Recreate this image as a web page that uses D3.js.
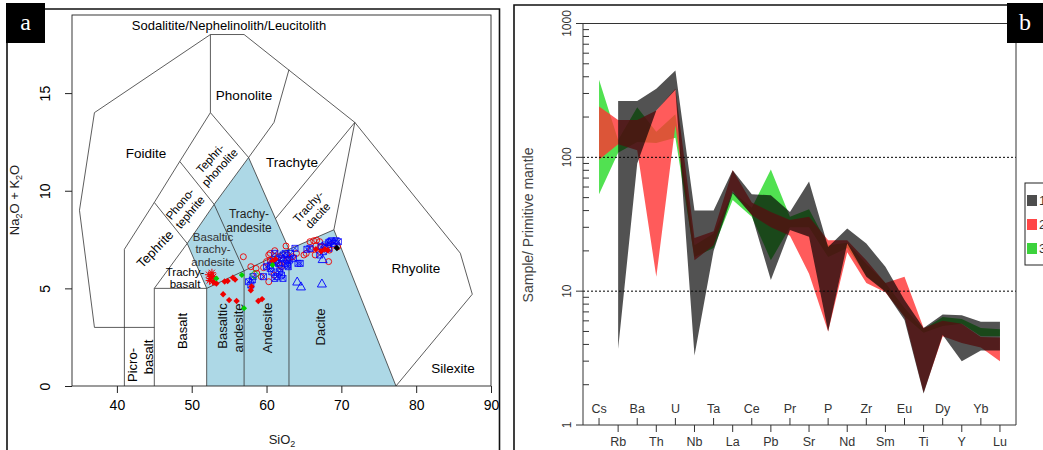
<!DOCTYPE html>
<html><head><meta charset="utf-8">
<script src="https://cdn.jsdelivr.net/npm/d3@7"></script>
<style>
html,body{margin:0;padding:0;background:#fff;}
svg{display:block;font-family:"Liberation Sans",Arial,sans-serif;}
</style></head><body>
<svg id="c" width="1043" height="450"></svg>
<script>
// ---------- Panel a: TAS data ----------
const tasXTicks = [40,50,60,70,80,90];
const tasYTicks = [0,5,10,15];
const tasShaded = [[52,0],[52,5],[49.4,7.3],[53,9.3],[57.6,11.7],[63,7],[69,8],[77.3,0]];
const tasLines = [
  [[45,3],[37,3],[35,9],[37,14],[52.5,18],[57,18],[71.8,13.5],[85.9,6.8],[87.5,4.7],[77.3,0]],
  [[41,0],[41,7],[45,9.4],[48.4,11.5],[52.5,14],[52.5,18]],
  [[45,0],[45,5],[52,5],[52,0]],
  [[45,5],[49.4,7.3],[52,5]],
  [[45,9.4],[49.4,7.3]],
  [[48.4,11.5],[53,9.3]],
  [[52.5,14],[57.6,11.7]],
  [[49.4,7.3],[53,9.3],[57.6,11.7],[61,13.5],[63,16.2]],
  [[53,9.3],[57,5.9]],
  [[52,5],[57,5.9],[63,7],[69,8]],
  [[57,0],[57,5.9]],
  [[63,0],[63,7]],
  [[57.6,11.7],[63,7]],
  [[69,8],[77.3,0]],
  [[69,8],[71.8,13.5]],
  [[61.2,8.57],[71.8,13.5]]
];
const tasRedCross = [[52.3,5.7],[52.5,5.5],[52.7,5.8],[52.9,5.6],[52.4,5.4],[52.8,5.35],[52.6,5.62]];
const tasRedFilled = [[53.0,5.3],[53.3,5.25],[54.4,5.35],[54.8,5.38],[55.5,5.55],[55.8,5.45],[54.2,4.7],[55.0,4.4],[56.0,4.35],[57.9,4.9],[58.0,5.1],[58.9,4.35],[59.4,4.45],[60.8,6.4],[61.2,6.5],[66.6,7.0],[67.3,6.9],[67.8,7.0],[68.2,6.95]];
const tasGreenFilled = [[53.3,5.5],[56.7,5.68],[57.0,3.98],[60.8,6.2]];
const tasGreenOpen = [[58.4,5.7]];
const tasRedCircle = [[56.9,6.62],[57.9,6.11],[58.6,6.02],[59.6,6.06],[60.0,6.37],[60.3,6.71],[60.5,6.79],[61.1,6.93],[61.6,6.62],[60.3,5.34],[61.0,5.68],[62.0,6.11],[62.6,7.17],[63.5,6.62],[64.0,6.79],[65.0,6.71],[65.3,6.79],[65.8,7.39],[66.3,7.44],[66.7,7.47],[67.1,7.39],[67.2,7.13],[66.5,6.71],[67.8,7.13],[68.3,6.37],[68.4,6.96],[68.9,7.22],[59.3,5.6],[58.7,5.77],[60.5,6.45],[61.3,6.37],[61.8,6.19],[62.2,6.45],[62.7,6.71],[63.0,6.54],[66.6,7.17],[66.0,7.0],[69.5,7.13]];
const tasBlueSquare = [[57.6,5.34],[57.9,5.17],[58.1,5.43],[58.2,5.6],[59.6,5.6],[60.0,6.11],[60.5,6.19],[60.9,6.37],[61.4,6.45],[61.6,6.28],[62.0,6.54],[62.2,6.71],[62.5,6.79],[62.7,6.45],[62.8,6.19],[63.1,6.45],[63.6,6.54],[63.8,7.05],[64.2,6.28],[64.5,6.28],[61.7,5.85],[62.0,5.68],[61.4,5.6],[62.2,5.51],[61.1,5.51],[65.4,7.0],[65.8,7.05],[67.3,7.13],[67.8,7.22],[68.3,7.34],[68.5,7.39],[68.7,7.44],[69.0,7.3],[69.3,7.44],[69.6,7.39],[68.3,7.05],[67.6,6.88],[67.1,6.71],[60.7,5.85],[63.2,6.79],[60.5,6.02],[61.8,6.02],[62.5,6.28],[62.9,6.11],[61.1,6.79]];
const tasBlueTriangle = [[64.1,5.35],[64.6,5.1],[67.4,5.25],[67.5,6.5]];
const tasBlack = [[69.4,7.07]];

// ---------- Panel b: spider diagram data ----------
const elementsTop = ["Cs","Ba","U","Ta","Ce","Pr","P","Zr","Eu","Dy","Yb"];
const elements = ["Cs","Rb","Ba","Th","U","Nb","Ta","La","Ce","Pb","Pr","Sr","P","Nd","Zr","Sm","Eu","Ti","Dy","Y","Yb","Lu"];
const g1Max = [null,264,264,326,446,40,40,80,53,52,39,66,21.4,29.4,22.7,15.2,8.6,5.3,6.7,6.6,5.9,5.9];
const g1Min = [null,3.7,90,224,320,3.3,20,54,37,12.1,28.6,25.5,5.0,22.7,12.8,9.9,6.1,1.72,4.7,3.0,3.6,3.6];
const g2Max = [240,190,190,224,326,25,28,80,46,39,34,36,24,24,17,11.5,12.8,5.3,6.0,5.7,4.55,4.5];
const g2Min = [96,125,113,12.8,173,17,22,56,37,30,26,13.5,5.0,19.5,11.5,9.8,6.4,1.75,4.6,4.1,3.8,3.0];
const g3Max = [380,135,237,155,210,22,27,55,42,81,36,41,22,23,16,11.5,7.5,5.2,6.4,6.2,5.3,5.2];
const g3Min = [53,108,130,128,140,18,21,48,36,17,30,30,18,21,13,10,6.5,4.9,5.5,5.7,4.6,4.6];
const yMajor = [1,10,100,1000];
const yMinor = [2,3,4,5,6,7,8,9,20,30,40,50,60,70,80,90,200,300,400,500,600,700,800,900];
const legendLabels = ["1","2","3"];

const svg = d3.select("#c");

// ================= PANEL A =================
const gA = svg.append("g");
const xA = d3.scaleLinear().domain([34,90]).range([72,491]);
const yA = d3.scaleLinear().domain([0,19]).range([386,15]);
const lineA = d3.line().x(d=>xA(d[0])).y(d=>yA(d[1]));

gA.append("path").attr("d","M7,450V9H499.5V450").attr("fill","none").attr("stroke","#111").attr("stroke-width",1.6);

gA.append("path").attr("d", lineA(tasShaded)+"Z").attr("fill","#add8e6");
tasLines.forEach(l=>gA.append("path").attr("d",lineA(l)).attr("fill","none").attr("stroke","#333").attr("stroke-width",0.8));
gA.append("rect").attr("x",72).attr("y",15).attr("width",419).attr("height",371).attr("fill","none").attr("stroke","#222").attr("stroke-width",0.9);

const ax = gA.append("g").attr("transform","translate(0,386)")
  .call(d3.axisBottom(xA).tickValues(tasXTicks).tickSize(7).tickPadding(10).tickFormat(d3.format("d")));
ax.select(".domain").remove();
ax.selectAll("line").attr("stroke","#222");
ax.selectAll("text").attr("font-size",14).attr("font-family","Liberation Sans, Arial").attr("fill","#000").attr("dy","0.5em");
const ay = gA.append("g").attr("transform","translate(72,0)")
  .call(d3.axisLeft(yA).tickValues(tasYTicks).tickSize(7).tickFormat(d3.format("d")));
ay.select(".domain").remove();
ay.selectAll("line").attr("stroke","#222");
ay.selectAll("text").attr("font-size",14).attr("font-family","Liberation Sans, Arial").attr("fill","#000")
  .attr("text-anchor","middle").attr("x",0).attr("dy",0)
  .attr("transform","translate(-22,0) rotate(-90)");

const yt = gA.append("text").attr("transform","translate(19,200) rotate(-90)").attr("text-anchor","middle").attr("font-size",13).attr("fill","#222");
yt.append("tspan").text("Na");
yt.append("tspan").text("2").attr("font-size",9).attr("dy",3);
yt.append("tspan").text("O + K").attr("dy",-3);
yt.append("tspan").text("2").attr("font-size",9).attr("dy",3);
yt.append("tspan").text("O").attr("dy",-3);
const xt = gA.append("text").attr("x",282).attr("y",444).attr("text-anchor","middle").attr("font-size",13).attr("fill","#222");
xt.append("tspan").text("SiO");
xt.append("tspan").text("2").attr("font-size",9).attr("dy",3);

function lab(lines, x, y, rot, size, color, gap){
  const t = gA.append("text").attr("transform",`translate(${x},${y}) rotate(${rot})`)
    .attr("text-anchor","middle").attr("font-size",size).attr("fill",color||"#000");
  const n = lines.length; gap = gap||size*1.0;
  lines.forEach((s,i)=>t.append("tspan").attr("x",0).attr("y",(i-(n-1)/2)*gap).attr("dy","0.35em").text(s));
}
lab(["Sodalitite/Nephelinolith/Leucitolith"],229,25,0,13);
lab(["Phonolite"],244,95,0,13.5);
lab(["Foidite"],146,153,0,13.5);
lab(["Trachyte"],292,162,0,13.5);
lab(["Tephri-","phonolite"],215,163,-47,11.5,"#000",13);
lab(["Phono-","tephrite"],185,208,-50,11.5,"#000",13);
lab(["Tephrite"],155,249,-46,13);
lab(["Trachy-","andesite"],249,221,0,12,"#222",13.5);
lab(["Trachy-","dacite"],313,211,-47,11.5,"#000",13);
lab(["Basaltic","trachy-","andesite"],213,249,0,11.5,"#333",12.5);
lab(["Trachy-","basalt"],185,278,0,11.5,"#000",12.5);
lab(["Basalt"],182,331,-90,13);
lab(["Picro-"],132,365,-90,13);
lab(["basalt"],148,357,-90,13);
lab(["Basaltic"],222,326,-90,13,"#111");
lab(["andesite"],238,328,-90,13,"#111");
lab(["Andesite"],267,328,-90,13,"#111");
lab(["Dacite"],320,327,-90,13,"#111");
lab(["Rhyolite"],416,268,0,13.5);
lab(["Silexite"],453,368,0,13.5);

const pts = gA.append("g");
tasRedCircle.forEach(d=>pts.append("circle").attr("cx",xA(d[0])).attr("cy",yA(d[1])).attr("r",3).attr("fill","none").attr("stroke","#e00").attr("stroke-width",0.9));
tasBlueSquare.forEach(d=>{const x=xA(d[0]),y=yA(d[1]);
  pts.append("path").attr("d",`M${x-3},${y-3}h6v6h-6zM${x-3},${y-3}l6,6M${x+3},${y-3}l-6,6`).attr("fill","none").attr("stroke","#00f").attr("stroke-width",0.8);});
tasBlueTriangle.forEach(d=>{const x=xA(d[0]),y=yA(d[1]);
  pts.append("path").attr("d",`M${x},${y-4.5}L${x+4.5},${y+3.5}L${x-4.5},${y+3.5}Z`).attr("fill","none").attr("stroke","#00f").attr("stroke-width",0.9);});
tasRedCross.forEach(d=>{const x=xA(d[0]),y=yA(d[1]);
  pts.append("path").attr("d",`M${x-4},${y}h8M${x},${y-4}v8M${x-3},${y-3}l6,6M${x+3},${y-3}l-6,6`).attr("stroke","#e00").attr("stroke-width",1);});
const diamond = (x,y,r)=>`M${x},${y-r}L${x+r},${y}L${x},${y+r}L${x-r},${y}Z`;
tasRedFilled.forEach(d=>pts.append("path").attr("d",diamond(xA(d[0]),yA(d[1]),3.2)).attr("fill","#e00"));
tasGreenFilled.forEach(d=>pts.append("path").attr("d",diamond(xA(d[0]),yA(d[1]),3)).attr("fill","#00d000"));
tasGreenOpen.forEach(d=>pts.append("path").attr("d",diamond(xA(d[0]),yA(d[1]),4.5)).attr("fill","none").attr("stroke","#00c000").attr("stroke-width",0.9));
tasBlack.forEach(d=>pts.append("path").attr("d",diamond(xA(d[0]),yA(d[1]),3.2)).attr("fill","#000"));

gA.append("rect").attr("x",6).attr("y",3).attr("width",39).attr("height",40).attr("fill","#000");
gA.append("text").attr("x",25.5).attr("y",30).attr("text-anchor","middle").attr("fill","#fff").attr("font-family","Liberation Serif, Times New Roman, serif").attr("font-size",24).text("a");

// ================= PANEL B =================
const gB = svg.append("g");
const xB = d3.scaleLinear().domain([-0.84, elements.length-1+0.84]).range([583,1016]);
const yB = d3.scaleLog().domain([1,1000]).range([425,23.5]);

gB.append("path").attr("d","M514,450V5H1043").attr("fill","none").attr("stroke","#111").attr("stroke-width",1.6);

const groups = [
  {max:g3Max,min:g3Min,fill:"rgba(50,220,50,0.85)"},
  {max:g2Max,min:g2Min,fill:"rgba(255,50,50,0.8)"},
  {max:g1Max,min:g1Min,fill:"rgba(0,0,0,0.68)"}
];
const area = d3.area().defined(d=>d.lo!=null&&d.hi!=null).x(d=>xB(d.i)).y0(d=>yB(d.lo)).y1(d=>yB(d.hi));
groups.forEach(g=>{
  const data = elements.map((e,i)=>({i,lo:g.min[i],hi:g.max[i]}));
  gB.append("path").attr("d",area(data)).attr("fill",g.fill);
});

[10,100].forEach(v=>gB.append("line").attr("x1",583).attr("x2",1016).attr("y1",yB(v)).attr("y2",yB(v))
  .attr("stroke","#000").attr("stroke-width",1).attr("stroke-dasharray","2,2"));

gB.append("path").attr("d",`M583,${yB(1000)}H1016V${yB(1)}H583Z`).attr("fill","none").attr("stroke","#333").attr("stroke-width",1);

yMajor.forEach(v=>{
  gB.append("line").attr("x1",576).attr("x2",583).attr("y1",yB(v)).attr("y2",yB(v)).attr("stroke","#333");
  gB.append("text").attr("transform",`translate(567,${yB(v)}) rotate(-90)`).attr("text-anchor","middle").attr("dy","0.35em")
    .attr("font-size",12).attr("fill","#333").text(v);
});
yMinor.forEach(v=>gB.append("line").attr("x1",583).attr("x2",589).attr("y1",yB(v)).attr("y2",yB(v)).attr("stroke","#333"));
gB.append("text").attr("transform","translate(528,225) rotate(-90)").attr("text-anchor","middle").attr("dy","0.35em")
  .attr("font-size",14).attr("fill","#444").text("Sample/ Primitive mantle");

elements.forEach((e,i)=>{
  const x = xB(i), top = elementsTop.includes(e);
  if(top){
    gB.append("line").attr("x1",x).attr("x2",x).attr("y1",425).attr("y2",418).attr("stroke","#333");
    gB.append("text").attr("x",x).attr("y",413).attr("text-anchor","middle").attr("font-size",12.5).attr("fill","#333").text(e);
  } else {
    gB.append("line").attr("x1",x).attr("x2",x).attr("y1",425).attr("y2",432).attr("stroke","#333");
    gB.append("text").attr("x",x).attr("y",446).attr("text-anchor","middle").attr("font-size",12.5).attr("fill","#333").text(e);
  }
});

gB.append("rect").attr("x",1025).attr("y",183).attr("width",40).attr("height",82).attr("fill","#fff").attr("stroke","#222").attr("stroke-width",1);
const legFill = ["rgb(77,77,77)","rgb(255,70,70)","rgb(60,210,60)"];
legendLabels.forEach((l,i)=>{
  gB.append("rect").attr("x",1027).attr("y",195+i*24).attr("width",10).attr("height",11).attr("fill",legFill[i]);
  gB.append("text").attr("x",1039).attr("y",205+i*24).attr("font-size",13).attr("fill","#333").text(l);
});

gB.append("rect").attr("x",1007).attr("y",3).attr("width",36).attr("height",40).attr("fill","#000");
gB.append("text").attr("x",1025).attr("y",30).attr("text-anchor","middle").attr("fill","#fff").attr("font-family","Liberation Serif, Times New Roman, serif").attr("font-size",24).text("b");
</script>
</body></html>
